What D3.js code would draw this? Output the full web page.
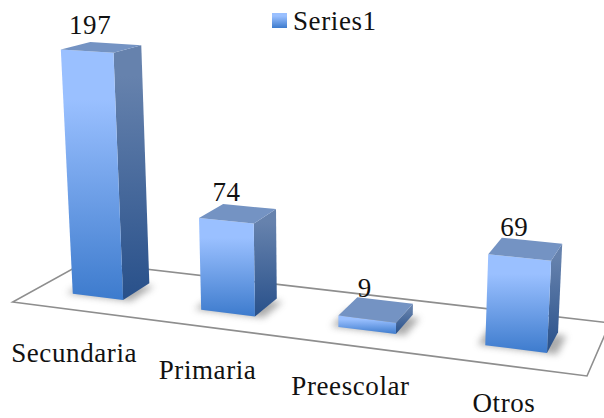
<!DOCTYPE html>
<html>
<head>
<meta charset="utf-8">
<script src="https://cdnjs.cloudflare.com/ajax/libs/d3/7.8.5/d3.min.js"></script>
<style>
    html, body { margin: 0; padding: 0; background: #fff; }
    text { font-family: "Liberation Serif", serif; font-size: 27px; letter-spacing: 0.6px; fill: #111; }
</style>
</head>
<body>
<div id="chart"></div>
<script>
const width = 604, height = 418;

const categories = ["Secundaria", "Primaria", "Preescolar", "Otros"];
const values = [197, 74, 9, 69];
const seriesName = "Series1";

// Floor plane corners on screen: front-left, front-right, back-right, back-left
const floor = [[12.7, 302], [587, 376], [610, 323], [85, 262]];
// Vanishing point of the vertical edges
const vanish = [321, 5362];

// Scales in "world" units, u along the floor, v into the depth, h up
const u = d3.scaleBand().domain(categories).range([0, 1]).paddingInner(0.6).paddingOuter(0.3);
const depth = d3.scaleLinear().domain([0, 1]).range([0.3, 0.7]);
const h = d3.scaleLinear().domain([0, 197]).range([0, -0.0469]);
// Category labels step down the page
const labelY = d3.scalePoint().domain(categories).range([362, 412]);

// Unit square to floor quad homography
const [p0, p1, p2, p3] = floor;
const dx1 = p1[0] - p2[0], dy1 = p1[1] - p2[1], dx2 = p3[0] - p2[0], dy2 = p3[1] - p2[1];
const sx = p0[0] - p1[0] + p2[0] - p3[0], sy = p0[1] - p1[1] + p2[1] - p3[1];
const den = dx1 * dy2 - dx2 * dy1;
const g = (sx * dy2 - dx2 * sy) / den, k = (dx1 * sy - sx * dy1) / den;
const a = p1[0] - p0[0] + g * p1[0], b = p3[0] - p0[0] + k * p3[0];
const d = p1[1] - p0[1] + g * p1[1], e = p3[1] - p0[1] + k * p3[1];

function project(pu, pv, ph) {
    const w = g * pu + k * pv + 1 + ph;
    return [
        (a * pu + b * pv + p0[0] + ph * vanish[0]) / w,
        (d * pu + e * pv + p0[1] + ph * vanish[1]) / w
    ];
}

const svg = d3.select("#chart").append("svg")
    .attr("width", width)
    .attr("height", height)
    .style("display", "block");

const defs = svg.append("defs");

function gradient(id, top, bottom, start) {
    const lg = defs.append("linearGradient").attr("id", id)
        .attr("x1", 0).attr("y1", 0).attr("x2", 0).attr("y2", 1);
    lg.append("stop").attr("offset", start).attr("stop-color", top);
    lg.append("stop").attr("offset", "100%").attr("stop-color", bottom);
}
gradient("front", "#9ac0ff", "#3d7bcd", "20%");
gradient("side", "#6682ad", "#28508a", "12%");

defs.append("filter").attr("id", "blur")
    .attr("x", "-30%").attr("y", "-30%").attr("width", "160%").attr("height", "160%")
    .append("feGaussianBlur").attr("stdDeviation", 3.5);

const line = d3.line();
const closed = pts => line(pts) + "Z";

// Floor outline
svg.append("path")
    .attr("d", closed(floor))
    .attr("fill", "none")
    .attr("stroke", "#8e8e8e")
    .attr("stroke-width", 1.6);

const bars = categories.map((c, i) => {
    const u0 = u(c), u1 = u(c) + u.bandwidth();
    const v0 = depth(0), v1 = depth(1);
    const t = h(values[i]);
    return { c, value: values[i], u0, u1, v0, v1, t };
});

// Shadows on the floor
svg.append("g").selectAll("path")
    .data(bars)
    .enter().append("path")
    .attr("d", s => closed([
        project(s.u0 - 0.012, s.v0 - 0.005, 0),
        project(s.u1 + 0.016, s.v0 - 0.005, 0),
        project(s.u1 + 0.016, s.v1 - 0.05, 0),
        project(s.u0 - 0.012, s.v1 - 0.05, 0)
    ]))
    .attr("fill", "#666")
    .attr("opacity", 0.55)
    .attr("filter", "url(#blur)");

// Bars
const bar = svg.append("g").selectAll("g")
    .data(bars)
    .enter().append("g");

bar.append("path")
    .attr("d", s => closed([project(s.u1, s.v0, s.t), project(s.u1, s.v1, s.t), project(s.u1, s.v1, 0), project(s.u1, s.v0, 0)]))
    .attr("fill", "url(#side)");

bar.append("path")
    .attr("d", s => closed([project(s.u0, s.v0, s.t), project(s.u1, s.v0, s.t), project(s.u1, s.v0, 0), project(s.u0, s.v0, 0)]))
    .attr("fill", "url(#front)");

bar.append("path")
    .attr("d", s => closed([project(s.u0, s.v0, s.t), project(s.u1, s.v0, s.t), project(s.u1, s.v1, s.t), project(s.u0, s.v1, s.t)]))
    .attr("fill", "#7493c3");

// Value labels
svg.append("g").selectAll("text")
    .data(bars)
    .enter().append("text")
    .attr("text-anchor", "middle")
    .attr("x", s => project((s.u0 + s.u1) / 2, 0.5, s.t)[0] - 11.5)
    .attr("y", s => project((s.u0 + s.u1) / 2, 0.5, s.t)[1] - 13)
    .text(s => s.value);

// Category labels
svg.append("g").selectAll("text")
    .data(bars)
    .enter().append("text")
    .attr("text-anchor", "middle")
    .attr("x", s => project((s.u0 + s.u1) / 2, 0, 0)[0] - 2)
    .attr("y", s => labelY(s.c))
    .text(s => s.c);

// Legend
svg.append("rect")
    .attr("x", 272).attr("y", 13)
    .attr("width", 15).attr("height", 15)
    .attr("fill", "url(#front)");

svg.append("text")
    .attr("x", 293).attr("y", 30)
    .text(seriesName);
</script>
</body>
</html>
